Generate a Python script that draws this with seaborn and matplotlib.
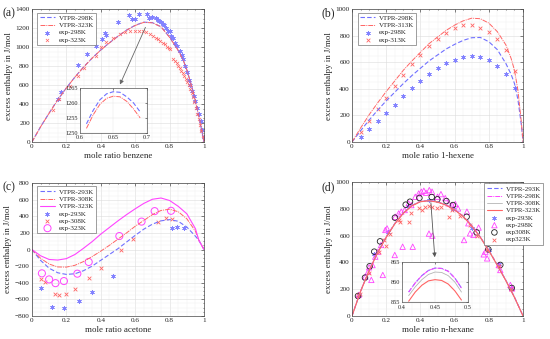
import numpy as np
import pandas as pd
import matplotlib
matplotlib.use("Agg")
import matplotlib.pyplot as plt
from matplotlib.ticker import AutoMinorLocator, FuncFormatter, MultipleLocator
import seaborn as sns

# ---------------- data ----------------
# (a) benzene
xa_mod = [0, 0.05, 0.1, 0.15, 0.2, 0.25, 0.3, 0.35, 0.4, 0.45, 0.5, 0.55, 0.6, 0.65, 0.7,
          0.75, 0.8, 0.85, 0.88, 0.9, 0.93, 0.95, 0.97, 0.99, 1.0]
ya_298 = [0, 160, 305, 445, 570, 685, 790, 885, 970, 1045, 1115, 1180, 1230, 1263, 1258,
          1215, 1105, 965, 860, 760, 580, 430, 270, 90, 0]
ya_323 = [0, 159, 304, 444, 569, 684, 789, 884, 969, 1044, 1114, 1178, 1228, 1261, 1256,
          1213, 1103, 963, 858, 758, 578, 428, 268, 89, 0]
xa_exp298 = [0.15, 0.17, 0.27, 0.32, 0.37, 0.41, 0.425, 0.43, 0.50, 0.566, 0.58, 0.60, 0.62,
             0.67, 0.68, 0.70, 0.72, 0.73, 0.74, 0.75, 0.76, 0.77, 0.78, 0.79, 0.80, 0.81,
             0.82, 0.83, 0.84, 0.86, 0.87, 0.88, 0.89, 0.90, 0.91, 0.92, 0.93, 0.94, 0.95,
             0.96, 0.97, 0.98, 0.99, 1.0]
ya_exp298 = [455, 530, 810, 925, 1010, 1085, 1145, 1125, 1265, 1340, 1295, 1300, 1345,
             1345, 1310, 1320, 1305, 1290, 1280, 1265, 1245, 1230, 1200, 1175, 1165, 1120,
             1095, 1040, 1010, 960, 915, 870, 800, 740, 650, 600, 540, 490, 430,
             360, 300, 220, 130, 50]
xa_exp323 = [0.12, 0.16, 0.22, 0.27, 0.30, 0.37, 0.40, 0.43, 0.47, 0.51, 0.54, 0.57, 0.60,
             0.62, 0.645, 0.665, 0.685, 0.705, 0.72, 0.735, 0.745, 0.76, 0.775, 0.785, 0.795,
             0.805, 0.822, 0.832, 0.841, 0.851, 0.86, 0.868, 0.876, 0.886, 0.895, 0.903,
             0.912, 0.92, 0.928, 0.936, 0.944, 0.952, 0.96, 0.968, 0.976, 0.984, 0.992, 1.0]
ya_exp323 = [340, 450, 590, 700, 780, 910, 1000, 1050, 1098, 1134, 1155, 1168, 1175,
             1175, 1168, 1155, 1140, 1120, 1100, 1085, 1063, 1045, 1028, 1005, 990,
             975, 880, 853, 830, 800, 778, 750, 725, 697, 665, 637,
             600, 560, 520, 470, 420, 360, 300, 240, 180, 120, 60, 20]
xa_zoom = [0.61, 0.62, 0.63, 0.64, 0.65, 0.66, 0.67, 0.68, 0.69]
ya_zoom298 = [1253, 1257.5, 1261, 1263, 1263.7, 1263.5, 1262, 1260, 1257]
ya_zoom323 = [1251.5, 1256, 1259.5, 1261.5, 1262.2, 1262, 1260.5, 1258, 1255]

# (b) 1-hexene
xb_mod = [0, 0.05, 0.1, 0.15, 0.2, 0.25, 0.3, 0.35, 0.4, 0.45, 0.5, 0.55, 0.6, 0.65, 0.7,
          0.75, 0.8, 0.85, 0.9, 0.93, 0.95, 0.97, 0.99, 1.0]
yb_298 = [0, 85, 165, 240, 310, 375, 440, 500, 555, 610, 655, 700, 735, 765, 785,
          787, 755, 695, 590, 510, 440, 320, 130, 0]
yb_313 = [0, 105, 205, 295, 380, 460, 540, 610, 675, 740, 790, 840, 880, 912, 932,
          928, 895, 830, 730, 630, 540, 390, 150, 0]
xb_exp = [0.05, 0.1, 0.15, 0.2, 0.25, 0.3, 0.35, 0.4, 0.45, 0.5, 0.55, 0.6, 0.65, 0.7,
          0.75, 0.8, 0.85, 0.9, 0.955]
yb_exp298 = [40, 95, 155, 220, 280, 345, 405, 460, 515, 558, 595, 620, 640, 645,
             640, 615, 575, 510, 405]
yb_exp313 = [77, 160, 245, 335, 420, 502, 585, 657, 720, 777, 822, 855, 877, 877,
             860, 827, 775, 690, 532]

# (c) acetone
xc_mod = [0, 0.05, 0.1, 0.15, 0.2, 0.25, 0.3, 0.35, 0.4, 0.45, 0.5, 0.55, 0.6, 0.65, 0.7,
          0.75, 0.8, 0.85, 0.9, 0.95, 0.97, 1.0]
yc_293 = [0, -130, -225, -280, -300, -292, -255, -200, -130, -60, 10, 90, 170, 245, 305,
          345, 360, 340, 270, 160, 110, 0]
yc_308 = [0, -105, -175, -210, -212, -190, -145, -85, -20, 50, 125, 200, 280, 350, 420,
          470, 485, 455, 370, 220, 110, 0]
yc_323 = [0, -75, -120, -127, -110, -60, 15, 95, 185, 265, 345, 420, 490, 555, 605,
          620, 590, 520, 430, 250, 110, 0]
xc_exp293 = [0.054, 0.114, 0.188, 0.273, 0.349, 0.47, 0.816, 0.845, 0.884]
yc_exp293 = [-462, -688, -708, -623, -514, -324, 255, 267, 255]
xc_exp308 = [0.054, 0.074, 0.136, 0.155, 0.2, 0.25, 0.33, 0.403, 0.517, 0.585, 0.73,
             0.78, 0.814]
yc_exp308 = [-352, -393, -534, -542, -534, -480, -348, -219, -8, 121, 332, 376, 372]
xc_exp323 = [0.058, 0.1, 0.137, 0.186, 0.264, 0.33, 0.508, 0.637, 0.713, 0.808]
yc_exp323 = [-287, -360, -405, -380, -291, -150, 162, 336, 462, 466]

# (d) n-hexane
xd_mod = [0, 0.05, 0.1, 0.15, 0.2, 0.25, 0.3, 0.35, 0.4, 0.45, 0.5, 0.55, 0.6, 0.65, 0.7,
          0.75, 0.8, 0.85, 0.9, 0.95, 1.0]
yd_293 = [0, 185, 340, 475, 590, 690, 770, 825, 856, 863, 853, 830, 795, 745, 675,
          590, 490, 380, 265, 140, 0]
yd_298 = [0, 185, 340, 475, 590, 690, 770, 825, 856, 863, 853, 830, 795, 745, 675,
          590, 490, 380, 265, 140, 0]
yd_308 = [0, 184, 339, 474, 589, 689, 769, 824, 855, 862, 852, 829, 794, 744, 674,
          589, 489, 379, 264, 139, 0]
yd_323 = [0, 183, 338, 472, 587, 687, 767, 822, 853, 860, 850, 827, 792, 742, 672,
          587, 487, 377, 262, 138, 0]
xd_exp293 = [0.04, 0.13, 0.21, 0.33, 0.45, 0.59, 0.70, 0.80, 0.86, 0.93]
yd_exp293 = [155, 460, 630, 820, 865, 800, 660, 490, 385, 205]
xd_exp298 = [0.039, 0.078, 0.094, 0.10, 0.113, 0.12, 0.136, 0.152, 0.17, 0.18, 0.195,
             0.205, 0.25, 0.253, 0.273, 0.288, 0.296, 0.308, 0.331, 0.347, 0.355, 0.37,
             0.39, 0.405, 0.42, 0.433, 0.452, 0.468, 0.45, 0.47, 0.50, 0.52, 0.545, 0.565,
             0.585, 0.604, 0.62, 0.655, 0.672, 0.68, 0.69, 0.71, 0.74, 0.77, 0.78, 0.79,
             0.858, 0.867, 0.926, 0.936]
yd_exp298 = [157, 294, 331, 363, 269, 380, 443, 480, 530, 306, 642,
             654, 455, 741, 766, 779, 517, 791, 841, 828, 517, 890,
             915, 928, 935, 920, 940, 928, 615, 600, 890, 910, 880, 841,
             828, 836, 803, 567, 779, 692, 617, 605, 660, 460, 480, 430,
             380, 343, 231, 206]
xd_exp308 = [0.035, 0.076, 0.103, 0.13, 0.164, 0.251, 0.314, 0.339, 0.394, 0.466, 0.499,
             0.552, 0.59, 0.67, 0.729, 0.797, 0.867, 0.934]
yd_exp308 = [149, 286, 371, 480, 557, 734, 831, 853, 881, 888, 871,
             858, 828, 741, 624, 497, 381, 209]
xd_exp323 = [0.035, 0.045, 0.10, 0.155, 0.19, 0.20, 0.22, 0.273, 0.283, 0.331, 0.347,
             0.39, 0.41, 0.425, 0.452, 0.468, 0.499, 0.52, 0.565, 0.585, 0.63, 0.69,
             0.73, 0.79, 0.86, 0.93]
yd_exp323 = [160, 165, 320, 480, 570, 525, 610, 716, 704, 704, 766,
             803, 791, 811, 821, 811, 803, 810, 741, 790, 750, 680,
             600, 490, 370, 200]
xd_zoom = [0.41, 0.42, 0.43, 0.44, 0.45, 0.46, 0.47, 0.48, 0.49]
yd_zoom293 = [857.5, 859.8, 861.6, 862.9, 863.5, 863.4, 862.7, 861, 858.5]
yd_zoom308 = [856.6, 858.8, 860.6, 861.9, 862.5, 862.4, 861.6, 860, 857.5]
yd_zoom323 = [855.2, 857.5, 859.2, 860.3, 860.6, 860.4, 859.5, 857.8, 855.5]

# ---------------- style ----------------
sns.set_theme(style="white")
plt.rcParams["font.family"] = ["Liberation Serif", "DejaVu Serif"]
plt.rcParams["axes.linewidth"] = 0.5

BLUE = "#7070ff"
BLUE_PT = "#8282ff"
RED = "#ff6464"
MAG = "#ff44ff"
GRAY = "#b4b4b4"

fig = plt.figure(figsize=(5.5, 3.39), dpi=100)


def style_ax(ax, ylim, ystep, xlabel, fs=5.2):
    ax.set_xlim(0, 1)
    ax.set_ylim(*ylim)
    ax.xaxis.set_major_locator(MultipleLocator(0.2))
    ax.yaxis.set_major_locator(MultipleLocator(ystep))
    ax.xaxis.set_minor_locator(AutoMinorLocator(4))
    ax.yaxis.set_minor_locator(AutoMinorLocator(4))
    ax.xaxis.set_major_formatter(FuncFormatter(lambda v, p: "%g" % round(v, 3)))
    ax.grid(True, which="major", color="#dcdcdc", lw=0.4)
    ax.grid(True, which="minor", color="#ededed", lw=0.3)
    ax.set_axisbelow(True)
    ax.tick_params(which="both", direction="in", top=True, right=True,
                   labelsize=fs, pad=1.5, width=0.4)
    ax.tick_params(which="major", length=2)
    ax.tick_params(which="minor", length=1)
    for s in ax.spines.values():
        s.set_color("#444444")
        s.set_linewidth(0.5)
    ax.set_xlabel(xlabel, fontsize=6.4, labelpad=2)
    ax.set_ylabel("excess enthalpy in J/mol", fontsize=6.4, labelpad=2)


def style_inset(ax, xlim, ylim, xt, yt):
    ax.set_xlim(*xlim)
    ax.set_ylim(*ylim)
    ax.set_xticks(xt)
    ax.set_yticks(yt)
    ax.xaxis.set_major_formatter(FuncFormatter(lambda v, p: "%g" % round(v, 3)))
    ax.grid(True, color="#e4e4e4", lw=0.3)
    ax.tick_params(direction="in", labelsize=4.5, length=1.5, width=0.4,
                   top=True, right=True)
    ax.tick_params(axis="x", pad=1.8)
    ax.tick_params(axis="y", pad=1.2)
    ax.set_xlabel("")
    ax.set_ylabel("")
    for s in ax.spines.values():
        s.set_linewidth(0.5)
        s.set_color("#555555")


def line(ax, x, y, color, ls, label, lw=0.8):
    sns.lineplot(x=x, y=y, ax=ax, color=color, linestyle=ls, lw=lw, label=label, sort=False)


def pts(ax, x, y, color, marker, label, s=8, open_=False, lw=0.6):
    if open_:
        sns.scatterplot(x=x, y=y, ax=ax, marker=marker, s=s, label=label,
                        facecolor="none", edgecolor=color, linewidth=lw)
    else:
        sns.scatterplot(x=x, y=y, ax=ax, marker=marker, s=s, label=label,
                        color=color, linewidth=lw)


def legend(ax, **kw):
    lg = ax.legend(fontsize=5, frameon=True, fancybox=False, framealpha=1,
                   edgecolor="#777777", handlelength=2.2, borderpad=0.35,
                   labelspacing=0.2, handletextpad=0.5, borderaxespad=0.3, **kw)
    lg.get_frame().set_linewidth(0.5)
    return lg


ASTER = (6, 2, 0)
DASH = (0, (4, 2))
DASHDOT = (0, (5, 1, 1, 1))

# ---------------- (a) ----------------
ax_a = fig.add_axes([0.058, 0.581, 0.313, 0.392])
line(ax_a, xa_mod, ya_298, BLUE, DASH, "VTPR-298K")
line(ax_a, xa_mod, ya_323, RED, DASHDOT, "VTPR-323K", lw=0.7)
pts(ax_a, xa_exp298, ya_exp298, BLUE_PT, ASTER, "exp-298K", s=9, lw=0.5)
pts(ax_a, xa_exp323, ya_exp323, RED, "x", "exp-323K", s=5, lw=0.5)
style_ax(ax_a, (0, 1400), 200, "mole ratio benzene")
legend(ax_a, loc="upper left", bbox_to_anchor=(0.02, 0.99))
ax_a.annotate("", xy=(0.505, 579), xytext=(0.666, 1235),
              arrowprops=dict(arrowstyle="-|>", color="#666666", lw=0.6,
                              mutation_scale=6))

ia = fig.add_axes([0.145, 0.608, 0.122, 0.133])
line(ia, xa_zoom, ya_zoom298, BLUE, DASH, None)
line(ia, xa_zoom, ya_zoom323, RED, DASHDOT, None, lw=0.7)
style_inset(ia, (0.6, 0.7), (1250, 1265), [0.6, 0.65, 0.7], [1250, 1255, 1260, 1265])

# ---------------- (b) ----------------
ax_b = fig.add_axes([0.64, 0.581, 0.311, 0.392])
line(ax_b, xb_mod, yb_298, BLUE, DASH, "VTPR-298K")
line(ax_b, xb_mod, yb_313, RED, DASHDOT, "VTPR-313K", lw=0.7)
pts(ax_b, xb_exp, yb_exp298, BLUE_PT, ASTER, "exp-298K", s=9, lw=0.5)
pts(ax_b, xb_exp, yb_exp313, RED, "x", "exp-313K", s=7)
style_ax(ax_b, (0, 1000), 200, "mole ratio 1-hexene")
legend(ax_b, loc="upper left", bbox_to_anchor=(0.02, 0.99))

# ---------------- (c) ----------------
ax_c = fig.add_axes([0.058, 0.068, 0.313, 0.392])
line(ax_c, xc_mod, yc_293, BLUE, DASH, "VTPR-293K")
line(ax_c, xc_mod, yc_308, RED, DASHDOT, "VTPR-308K", lw=0.7)
line(ax_c, xc_mod, yc_323, MAG, "-", "VTPR-323K", lw=0.8)
pts(ax_c, xc_exp293, yc_exp293, BLUE_PT, ASTER, "exp-293K", s=9, lw=0.5)
pts(ax_c, xc_exp308, yc_exp308, RED, "x", "exp-308K", s=7)
pts(ax_c, xc_exp323, yc_exp323, MAG, "o", "exp-323K", s=26, open_=True, lw=0.7)
style_ax(ax_c, (-800, 800), 200, "mole ratio acetone")
legend(ax_c, loc="upper left", bbox_to_anchor=(0.02, 0.99))

# ---------------- (d) ----------------
ax_d = fig.add_axes([0.64, 0.068, 0.311, 0.395])
line(ax_d, xd_mod, yd_293, BLUE, DASH, "VTPR-293K")
line(ax_d, xd_mod, yd_298, MAG, DASHDOT, "VTPR-298K", lw=0.7)
line(ax_d, xd_mod, yd_308, GRAY, "-", "VTPR-308K", lw=0.6)
line(ax_d, xd_mod, yd_323, RED, "-", "VTPR-323K", lw=0.8)
pts(ax_d, xd_exp293, yd_exp293, BLUE_PT, ASTER, "exp-293K", s=9, lw=0.5)
pts(ax_d, xd_exp298, yd_exp298, MAG, "^", "exp-298K", s=15, open_=True, lw=0.6)
pts(ax_d, xd_exp308, yd_exp308, "#222222", "o", "exp308K", s=16, open_=True, lw=0.6)
pts(ax_d, xd_exp323, yd_exp323, RED, "x", "exp323K", s=7)
style_ax(ax_d, (0, 1000), 200, "mole ratio n-hexane")
legend(ax_d, loc="upper right", bbox_to_anchor=(1.13, 1.005))
ax_d.annotate("", xy=(0.485, 418), xytext=(0.46, 866),
              arrowprops=dict(arrowstyle="-|>", color="#555555", lw=0.6,
                              mutation_scale=6))

idd = fig.add_axes([0.731, 0.109, 0.12, 0.118])
line(idd, xd_zoom, yd_zoom293, BLUE, DASH, None)
line(idd, xd_zoom, yd_zoom293, MAG, DASHDOT, None, lw=0.7)
line(idd, xd_zoom, yd_zoom308, GRAY, "-", None, lw=0.6)
line(idd, xd_zoom, yd_zoom323, RED, "-", None, lw=0.8)
style_inset(idd, (0.4, 0.5), (855, 865), [0.4, 0.45, 0.5], [855, 860, 865])

# panel letters
fig.text(0.004, 0.953, "(a)", fontsize=8.5)
fig.text(0.584, 0.953, "(b)", fontsize=8.5)
fig.text(0.004, 0.44, "(c)", fontsize=8.5)
fig.text(0.584, 0.44, "(d)", fontsize=8.5)

fig.savefig("out.png", dpi=100)
